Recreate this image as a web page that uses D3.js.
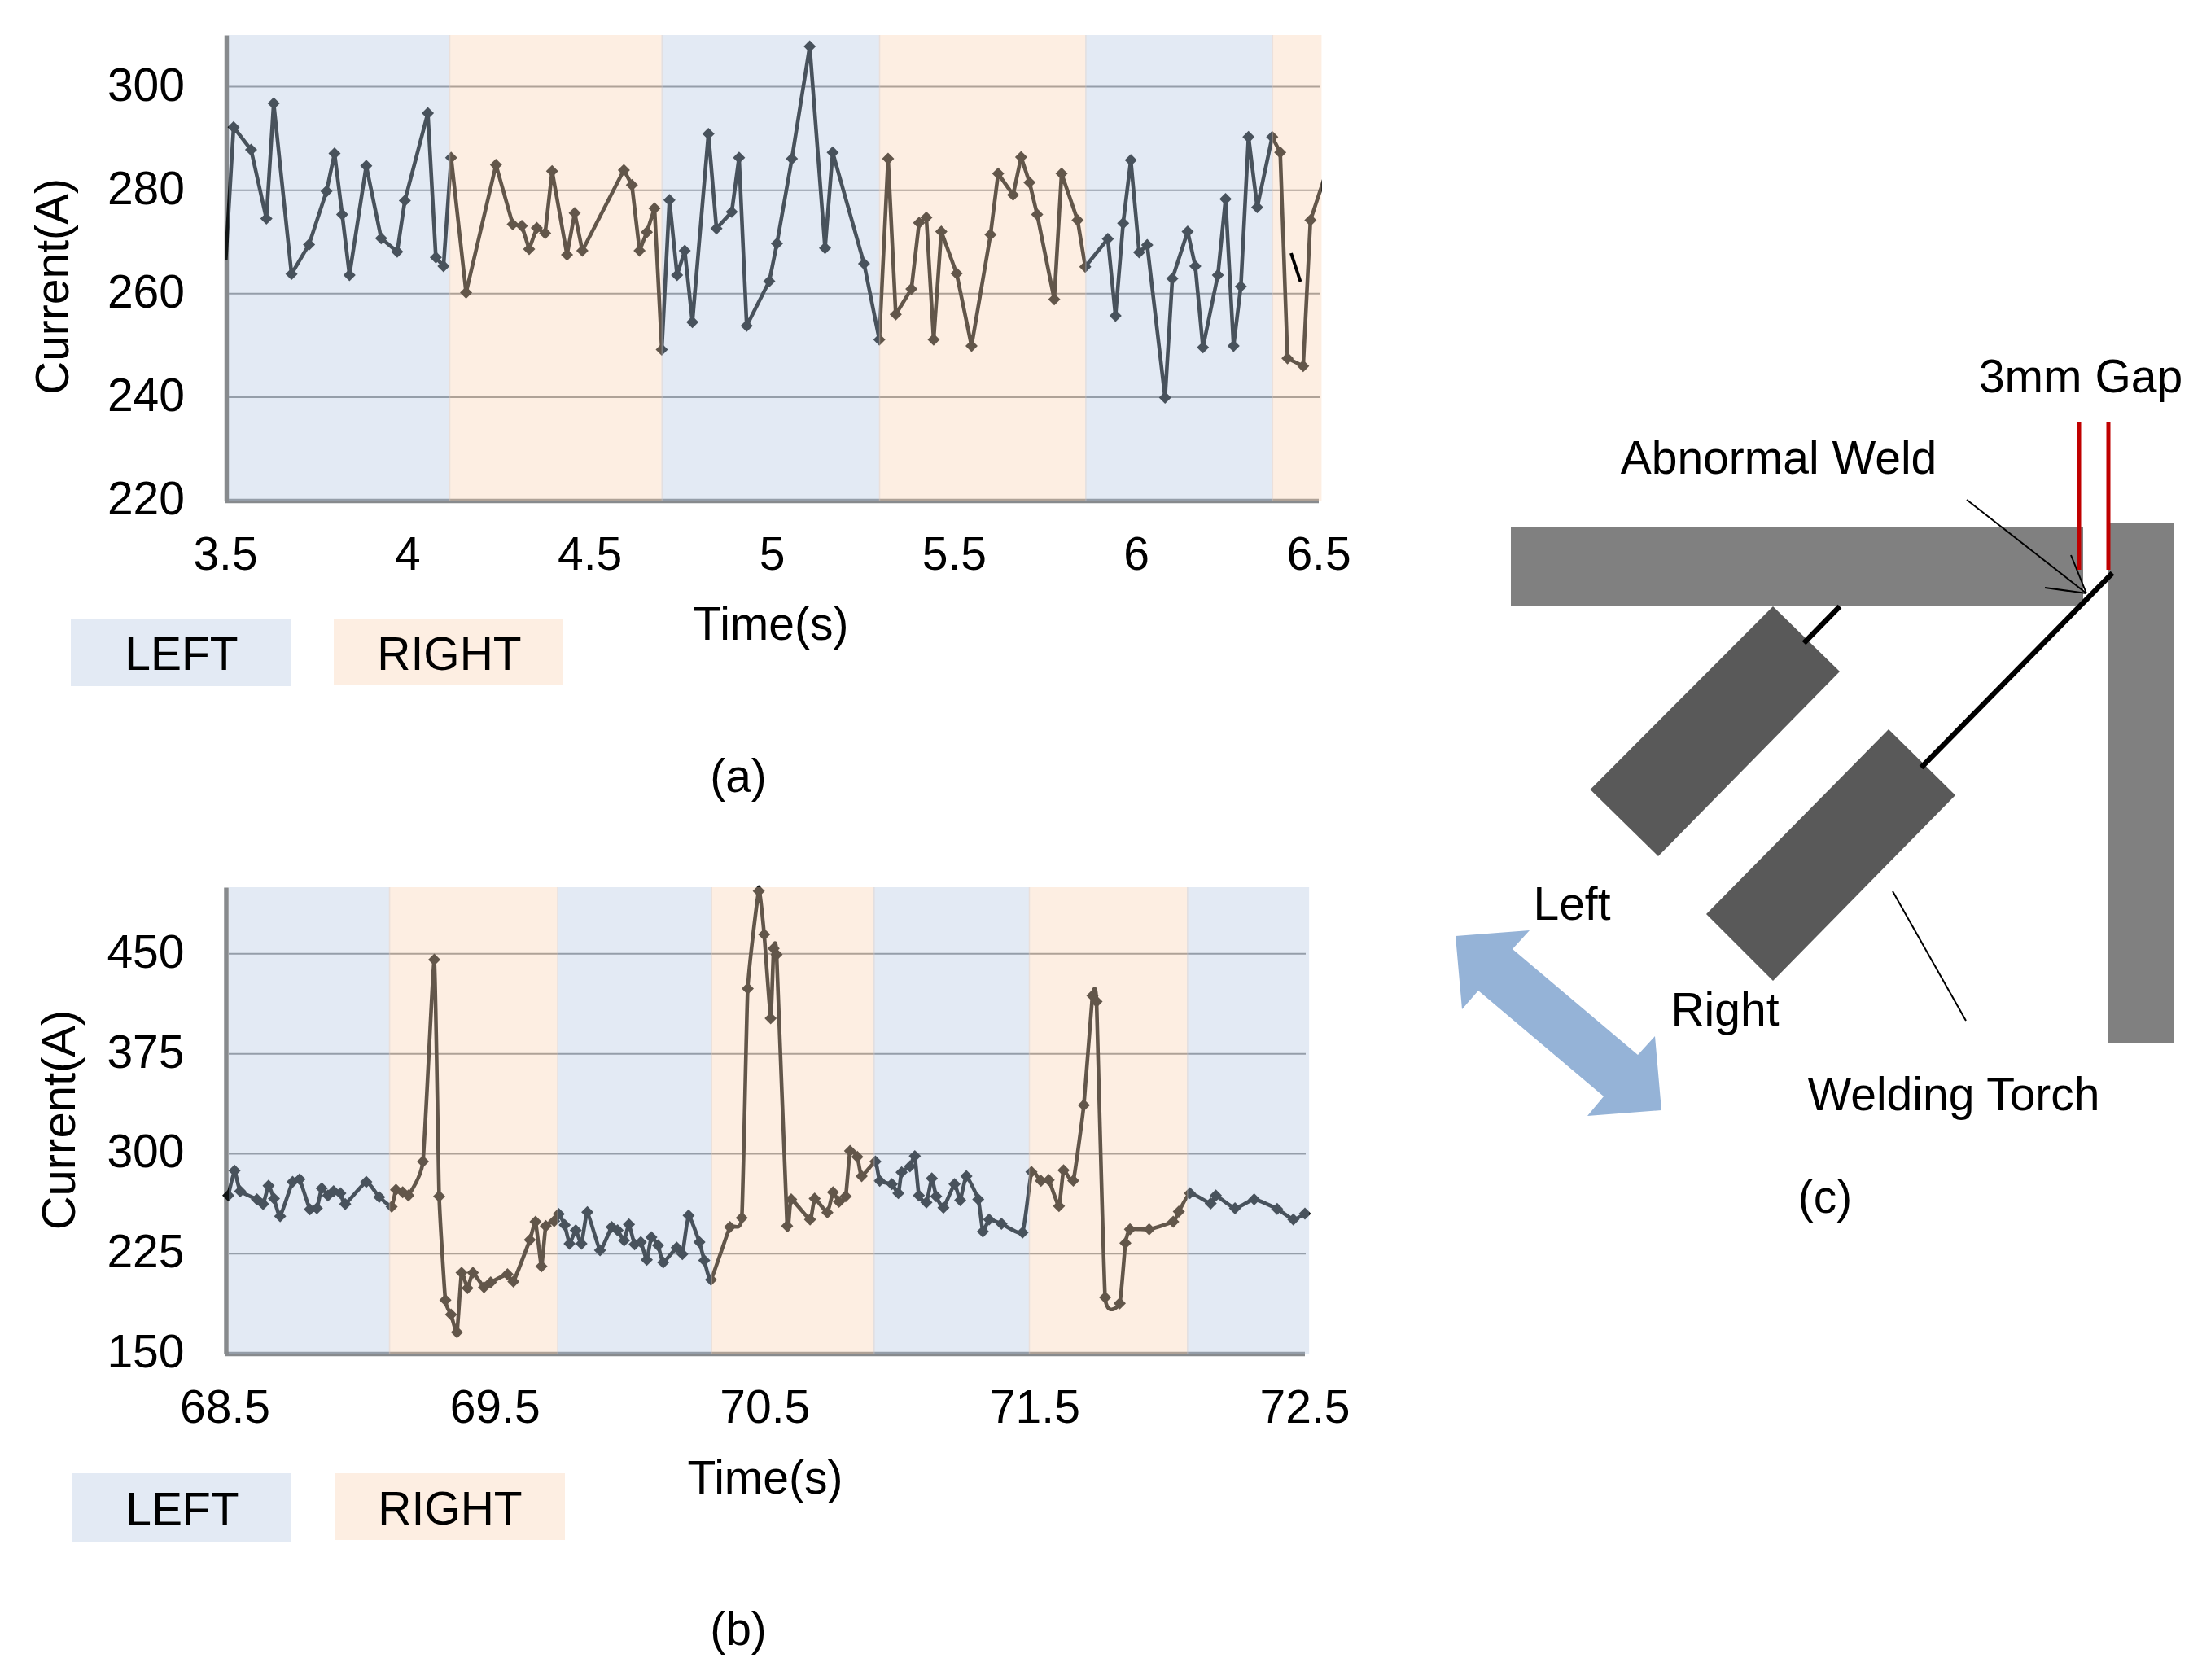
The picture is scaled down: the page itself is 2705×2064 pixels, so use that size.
<!DOCTYPE html>
<html>
<head>
<meta charset="utf-8">
<script src="https://cdn.jsdelivr.net/npm/d3@7.9.0/dist/d3.min.js"></script>
<style>
  html, body { margin: 0; background: #fff; }
  text { font-family: "Liberation Sans", Arial, sans-serif; fill: #000; }
</style>
</head>
<body>
<svg id="chart" width="2705" height="2064"></svg>
<script>
// panel (a)
const timeA = [3.4985, 3.520, 3.568, 3.610, 3.630, 3.679, 3.727, 3.775, 3.797, 3.818, 3.838, 3.884, 3.925, 3.969, 3.990, 4.053, 4.075, 4.096,
  4.117, 4.158, 4.240, 4.286, 4.311, 4.331, 4.352, 4.375, 4.394, 4.435, 4.456, 4.477, 4.591, 4.613, 4.634, 4.654, 4.675,
  4.695, 4.716, 4.737, 4.758, 4.779, 4.823, 4.845, 4.887, 4.907, 4.928, 4.990, 5.011, 5.052, 5.101, 5.143, 5.164, 5.250, 5.292,
  5.316, 5.337, 5.380, 5.401, 5.421, 5.441, 5.462, 5.504, 5.545, 5.597, 5.618, 5.659, 5.681, 5.704, 5.725, 5.772, 5.792, 5.836, 5.857,
  5.919, 5.940, 5.961, 5.982, 6.005, 6.027, 6.076, 6.096, 6.138, 6.159, 6.180, 6.221, 6.242, 6.264, 6.284, 6.305, 6.329, 6.370,
  6.392, 6.412, 6.455, 6.475, 6.530];
const currentA = [266.5, 292.2, 287.8, 274.5, 296.8, 263.8, 269.5, 279.8, 287.1, 275.3, 263.6, 284.7, 270.7, 268.1, 278, 294.9, 267, 265.3,
  286.3, 260.2, 284.9, 273.4, 273.1, 268.6, 272.7, 271.7, 283.7, 267.5, 275.6, 268.3, 283.9, 281, 268.3, 271.9, 276.5,
  249.2, 278.1, 263.6, 268.3, 254.5, 290.9, 272.6, 275.8, 286.3, 253.8, 262.4, 269.7, 286.1, 307.8, 268.8, 287.3, 265.8, 251.1,
  286.1, 256, 260.9, 273.7, 274.7, 251.1, 272, 263.9, 249.9, 271.4, 283.2, 279.1, 286.4, 281.5, 275.3, 258.9, 283.2, 274.2, 265.2,
  270.6, 255.7, 273.6, 285.8, 268, 269.4, 239.9, 262.9, 272, 265.3, 249.6, 263.6, 278.3, 249.9, 261.4, 290.3, 276.7, 290.3,
  287.3, 247.5, 246, 274.2, 286];
const bandEdgesA = [3.5067, 4.1115, 4.694, 5.291, 5.857, 6.3694, 6.502];
const xTicksA = [3.5, 4, 4.5, 5, 5.5, 6, 6.5];
const yTicksA = [220, 240, 260, 280, 300];

// panel (b)
const timeB = [68.509, 68.532, 68.553, 68.615, 68.638, 68.658, 68.678, 68.701, 68.747, 68.773, 68.811, 68.837, 68.855, 68.878, 68.899, 68.924, 68.942, 69.020, 69.068, 69.114,
  69.130, 69.155, 69.176, 69.230, 69.272, 69.290, 69.313, 69.334, 69.356, 69.373, 69.395, 69.415, 69.456, 69.481, 69.543, 69.565, 69.626, 69.647, 69.669, 69.685, 69.716, 69.733,
  69.755, 69.773, 69.796, 69.817, 69.839, 69.886, 69.929, 69.951, 69.975, 69.993, 70.014, 70.037, 70.059, 70.076, 70.101, 70.120, 70.170, 70.191, 70.214, 70.254, 70.272, 70.297,
  70.367, 70.411, 70.433, 70.474, 70.494, 70.518, 70.529, 70.540, 70.579, 70.594, 70.664, 70.681, 70.728, 70.749, 70.771, 70.796, 70.812, 70.839, 70.855, 70.906,
  70.922, 70.967, 70.991, 71.003, 71.034, 71.052, 71.067, 71.095, 71.115, 71.131, 71.158, 71.199, 71.220, 71.243, 71.287, 71.304, 71.327, 71.373, 71.451,
  71.484, 71.519, 71.548, 71.586, 71.603, 71.639, 71.678, 71.710, 71.725, 71.757, 71.811, 71.832, 71.849, 71.920, 72.009, 72.030, 72.071,
  72.148, 72.167, 72.238, 72.309, 72.394, 72.454, 72.497];
const currentB = [268.7, 287.3, 271.9, 265.8, 262.2, 276, 266.3, 253, 278.9, 280.8, 258.3, 259, 274, 268.7, 271.9, 270.4, 262.2, 278.9, 267.5, 260.3,
  273, 271.1, 268.7, 294.1, 445.6, 268, 190.2, 179.3, 166, 210.7, 199.1, 210.7, 199.8, 203.4, 209.5, 204, 235.4, 248.9, 215.5, 245.7, 249.4, 254.7,
  246.5, 232.5, 242.6, 232.5, 256.1, 227.6, 245, 242.6, 234.9, 247, 232, 233.7, 220.4, 237.3, 231.2, 218.4, 229.5, 224.7, 253.7, 233.7, 219.9, 205.4,
  245, 251.8, 423.9, 497.1, 464.5, 401.7, 454, 449.5, 245.7, 265.8, 250.6, 266.3, 255.9, 271.1, 263.9, 268, 302.1, 297.7, 283.2, 294.1,
  279.6, 277.2, 270.4, 286.1, 290.5, 298.2, 268.7, 263.4, 281.5, 268, 259.5, 277.2, 265.1, 283.2, 265.8, 241.6, 250.6, 247.4, 240.9,
  286.4, 279.6, 280.3, 260.7, 287.6, 279.8, 336.4, 418.6, 414.2, 192.1, 187.7, 232.9, 243.3, 243.3, 248.9, 256.6, 270.4,
  262.7, 268.7, 259, 265.8, 258.6, 250.6, 255];
const bandEdgesB = [68.5106, 69.104, 69.727, 70.297, 70.899, 71.474, 72.060, 72.508];
const xTicksB = [68.5, 69.5, 70.5, 71.5, 72.5];
const yTicksB = [150, 225, 300, 375, 450];

// band order alternates starting from the left side
const sides = ['LEFT', 'RIGHT'];

const lineColor = '#121616';
const axisColor = '#878a8d';
const bandColor = { LEFT: '#afc3e0', RIGHT: '#f9ceac' };
const bandOpacity = 0.35;
const fontSize = 57;

const svg = d3.select('#chart');

function addLabel(text, x, y, anchor = 'middle') {
  return svg.append('text')
    .attr('x', x)
    .attr('y', y)
    .attr('text-anchor', anchor)
    .attr('font-size', fontSize)
    .text(text);
}

function drawPanel(id, opts) {
  const { time, current, edges, xTicks, yTicks, xDomain, yDomain, xRange, yRange, gridLeft, curve, clipRight } = opts;

  const x = d3.scaleLinear().domain(xDomain).range(xRange);
  const y = d3.scaleLinear().domain(yDomain).range(yRange);
  const points = time.map((t, i) => ({ t, v: current[i] }));

  const g = svg.append('g');

  g.append('clipPath')
    .attr('id', `clip-${id}`)
    .append('rect')
    .attr('x', xRange[0] - 1)
    .attr('y', yRange[1] - 10)
    .attr('width', clipRight - xRange[0] + 1)
    .attr('height', yRange[0] - yRange[1] + 20);

  // gridlines sit under the line, everything gets tinted by the bands later
  g.selectAll('.grid')
    .data(yTicks.filter(d => d !== yDomain[0]))
    .enter()
    .append('line')
    .attr('x1', gridLeft)
    .attr('x2', xRange[1])
    .attr('y1', d => y(d))
    .attr('y2', d => y(d))
    .attr('stroke', axisColor)
    .attr('stroke-width', 2);

  const axisLeft = d3.axisLeft(y).tickValues(yTicks).tickSize(0).tickSizeOuter(0).tickPadding(51);
  const axisBottom = d3.axisBottom(x).tickValues(xTicks).tickSize(0).tickSizeOuter(0).tickPadding(45).tickFormat(d => d);

  [
    g.append('g').attr('transform', `translate(${xRange[0]},0)`).call(axisLeft),
    g.append('g').attr('transform', `translate(-1.5,${yRange[0]})`).call(axisBottom),
  ].forEach(a => {
    a.select('.domain').attr('stroke', axisColor).attr('stroke-width', 5.5);
    a.selectAll('text')
      .attr('font-size', fontSize)
      .attr('font-family', '"Liberation Sans", Arial, sans-serif')
      .attr('fill', '#000');
  });
  g.selectAll('.tick text').filter(function () { return this.getAttribute('x') !== null && +this.getAttribute('x') < 0; })
    .attr('dy', '0.29em');

  const line = d3.line()
    .x(d => x(d.t))
    .y(d => y(d.v))
    .curve(curve);

  g.append('path')
    .datum(points)
    .attr('clip-path', `url(#clip-${id})`)
    .attr('fill', 'none')
    .attr('stroke', lineColor)
    .attr('stroke-width', 4.6)
    .attr('stroke-linejoin', 'round')
    .attr('d', line);

  const diamond = d3.symbol(d3.symbolSquare, 112);

  g.selectAll('.marker')
    .data(points.filter(d => d.t >= xDomain[0] && d.t <= xDomain[1]))
    .enter()
    .append('path')
    .attr('d', diamond)
    .attr('fill', lineColor)
    .attr('transform', d => `translate(${x(d.t)},${y(d.v)}) rotate(45)`);

  // translucent bands go on top, that is what tints line, grid and axis
  g.selectAll('.band')
    .data(edges.slice(0, -1).map((e, i) => ({ from: e, to: edges[i + 1], side: sides[i % 2] })))
    .enter()
    .append('rect')
    .attr('x', d => x(d.from))
    .attr('y', yRange[1])
    .attr('width', d => x(d.to) - x(d.from) + 1.5)
    .attr('height', yRange[0] - yRange[1])
    .attr('fill', d => bandColor[d.side])
    .attr('fill-opacity', bandOpacity);
}

function legendBox(side, x, y, w, h, textX, baseline) {
  svg.append('rect')
    .attr('x', x)
    .attr('y', y)
    .attr('width', w)
    .attr('height', h)
    .attr('fill', bandColor[side])
    .attr('fill-opacity', bandOpacity);
  addLabel(side, textX, baseline);
}

function yTitle(x, y, size) {
  svg.append('text')
    .attr('transform', `translate(${x},${y}) rotate(-90)`)
    .attr('text-anchor', 'middle')
    .attr('font-size', size)
    .text('Current(A)');
}

drawPanel('a', {
  time: timeA,
  current: currentA,
  edges: bandEdgesA,
  xTicks: xTicksA,
  yTicks: yTicksA,
  xDomain: [3.5, 6.5],
  yDomain: [220, 310],
  xRange: [278, 1621],
  yRange: [615, 43],
  gridLeft: 281,
  curve: d3.curveLinear,
  clipRight: 1624,
});

drawPanel('b', {
  time: timeB,
  current: currentB,
  edges: bandEdgesB,
  xTicks: xTicksB,
  yTicks: yTicksB,
  xDomain: [68.5, 72.5],
  yDomain: [150, 500],
  xRange: [277.5, 1604],
  yRange: [1663, 1090],
  gridLeft: 281,
  curve: d3.curveCardinal.tension(0.6),
  clipRight: 1612,
});

yTitle(84, 352, 57);
yTitle(92, 1376, 58);
addLabel('Time(s)', 947, 786);
addLabel('Time(s)', 940, 1835);
addLabel('(a)', 907, 973);
addLabel('(b)', 907, 2021);
legendBox('LEFT', 87, 760, 270, 83, 223, 823);
legendBox('RIGHT', 410, 760, 281, 82, 552, 823);
legendBox('LEFT', 89, 1810, 269, 84, 224, 1874);
legendBox('RIGHT', 412, 1810, 282, 82, 553, 1873);

// stray stroke over panel (a)
svg.append('line')
  .attr('x1', 1586)
  .attr('y1', 311)
  .attr('x2', 1597.5)
  .attr('y2', 346)
  .attr('stroke', '#000')
  .attr('stroke-width', 4);

// panel (c), the welding schematic
const beams = [[1856, 648, 703, 97], [2589, 643, 81, 639]];
const torches = [
  [[2178, 745], [2260, 825], [2037, 1052], [1953.5, 970]],
  [[2320, 896], [2402, 977], [2178, 1205], [2096, 1123]],
];
const moveArrow = [[1788, 1150], [1879, 1143], [1858, 1166], [2012, 1296], [2033, 1273], [2041, 1364], [1950, 1371], [1970, 1347], [1816, 1217], [1796, 1240]];
const wires = [[2216, 790, 2260, 745], [2360, 943, 2595, 704]];
const gapLines = [[2554, 519, 2554, 700], [2590, 519, 2590, 700]];
const leaders = [[2416, 614, 2563, 729], [2544, 682, 2563, 729], [2512, 722, 2563, 729], [2325, 1095, 2415, 1254]];

const poly = d3.line();

svg.selectAll('.beam')
  .data(beams)
  .enter()
  .append('rect')
  .attr('x', d => d[0])
  .attr('y', d => d[1])
  .attr('width', d => d[2])
  .attr('height', d => d[3])
  .attr('fill', '#808080');

svg.selectAll('.torch')
  .data(torches)
  .enter()
  .append('path')
  .attr('d', d => poly(d) + 'Z')
  .attr('fill', '#595959');

svg.append('path')
  .attr('d', poly(moveArrow) + 'Z')
  .attr('fill', '#95b3d7');

function segments(data, color, width) {
  svg.append('g')
    .selectAll('line')
    .data(data)
    .enter()
    .append('line')
    .attr('x1', d => d[0])
    .attr('y1', d => d[1])
    .attr('x2', d => d[2])
    .attr('y2', d => d[3])
    .attr('stroke', color)
    .attr('stroke-width', width);
}

segments(gapLines, '#c00000', 5);
segments(wires, '#000', 6.5);
segments(leaders, '#000', 2);

addLabel('3mm Gap', 2556, 482);
addLabel('Abnormal Weld', 2185, 582);
addLabel('Left', 1931, 1130);
addLabel('Right', 2119, 1260);
addLabel('Welding Torch', 2400, 1364);
addLabel('(c)', 2242, 1490);
</script>
</body>
</html>
